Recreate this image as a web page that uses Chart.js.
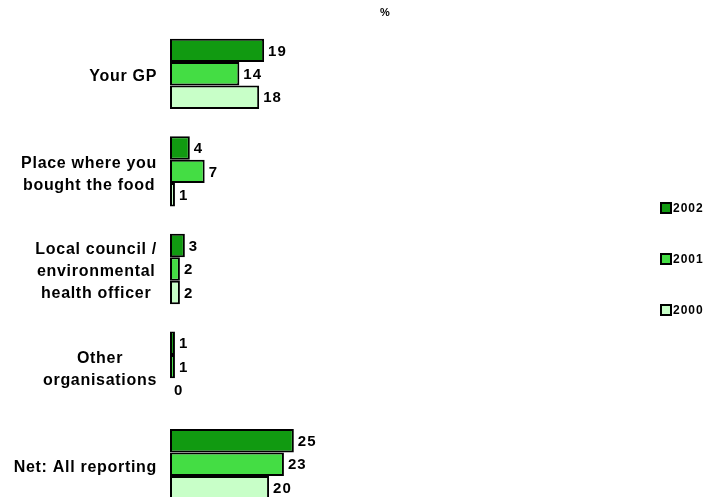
<!DOCTYPE html>
<html>
<head>
<meta charset="utf-8">
<script src="https://cdn.jsdelivr.net/npm/chart.js@4"></script>
<style>
html, body { margin: 0; padding: 0; background: #fff; overflow: hidden; }
#wrap { width: 720px; height: 530px; position: relative; }
</style>
</head>
<body>
<div id="wrap"><canvas id="chart"></canvas></div>
<script>
// categories (multi-line labels) and the three survey years
const categories = [
    ['Your GP'],
    ['Place where you', 'bought the food'],
    ['Local council /', 'environmental', 'health officer'],
    ['Other', 'organisations'],
    ['Net: All reporting']
];
const years = ['2002', '2001', '2000'];
const values2002 = [19, 4, 3, 1, 25];
const values2001 = [14, 7, 2, 1, 23];
const values2000 = [18, 1, 2, 0, 20];
const axisTitle = '%';

const yearColors = ['#119a11', '#44dd44', '#c8ffc8'];
const FONT = '"Liberation Sans", Arial, sans-serif';

// draws the % title, value labels, category labels (centred lines, block right aligned) and the legend
const labelPlugin = {
    id: 'labelPlugin',
    afterDraw(chart) {
        const ctx = chart.ctx;
        const area = chart.chartArea;
        ctx.save();
        ctx.fillStyle = '#000';
        ctx.textBaseline = 'middle';

        // axis title above the plot
        ctx.font = 'bold 11px ' + FONT;
        ctx.textAlign = 'center';
        ctx.fillText(axisTitle, (area.left + area.right) / 2 + 2, 13);

        // value labels at the end of each bar
        ctx.font = 'bold 15px ' + FONT;
        ctx.letterSpacing = '1px';
        ctx.textAlign = 'left';
        chart.data.datasets.forEach((ds, di) => {
            chart.getDatasetMeta(di).data.forEach((bar, i) => {
                ctx.fillText(String(ds.data[i]), bar.x + 4, bar.y + 1);
            });
        });

        // category labels
        const yScale = chart.scales.y;
        ctx.font = 'bold 16px ' + FONT;
        ctx.letterSpacing = '0.7px';
        ctx.textAlign = 'center';
        const rightEdge = area.left - 13;
        const lineH = 22;
        categories.forEach((lines, i) => {
            const cy = yScale.getPixelForValue(i) + 3;
            const maxW = Math.max(...lines.map(l => ctx.measureText(l).width));
            const cx = rightEdge - maxW / 2;
            lines.forEach((l, k) => {
                ctx.fillText(l, cx, cy + (k - (lines.length - 1) / 2) * lineH);
            });
        });

        // legend
        ctx.font = 'bold 12px ' + FONT;
        ctx.letterSpacing = '1px';
        ctx.textAlign = 'left';
        chart.data.datasets.forEach((ds, di) => {
            const y = 208 + di * 51;
            ctx.fillStyle = ds.backgroundColor;
            ctx.fillRect(661, y - 5, 10, 10);
            ctx.strokeStyle = '#000';
            ctx.lineWidth = 2;
            ctx.strokeRect(661, y - 5, 10, 10);
            ctx.fillStyle = '#000';
            ctx.fillText(ds.label, 673, y + 1);
        });
        ctx.restore();
    }
};

const ctx = document.getElementById('chart').getContext('2d');
new Chart(ctx, {
    type: 'bar',
    data: {
        labels: categories,
        datasets: [
            { label: years[0], data: values2002, backgroundColor: yearColors[0] },
            { label: years[1], data: values2001, backgroundColor: yearColors[1] },
            { label: years[2], data: values2000, backgroundColor: yearColors[2] }
        ]
    },
    options: {
        indexAxis: 'y',
        responsive: true,
        maintainAspectRatio: false,
        animation: false,
        devicePixelRatio: 1,
        layout: { padding: { left: 170, right: 124, top: 25, bottom: 17 } },
        datasets: {
            bar: {
                borderColor: '#000',
                borderWidth: 2,
                borderSkipped: false,
                categoryPercentage: 0.72,
                barPercentage: 1
            }
        },
        plugins: {
            legend: { display: false },
            tooltip: { enabled: false }
        },
        scales: {
            x: { display: false, min: 0, max: 86 },
            y: { display: false }
        }
    },
    plugins: [labelPlugin]
});
</script>
</body>
</html>
